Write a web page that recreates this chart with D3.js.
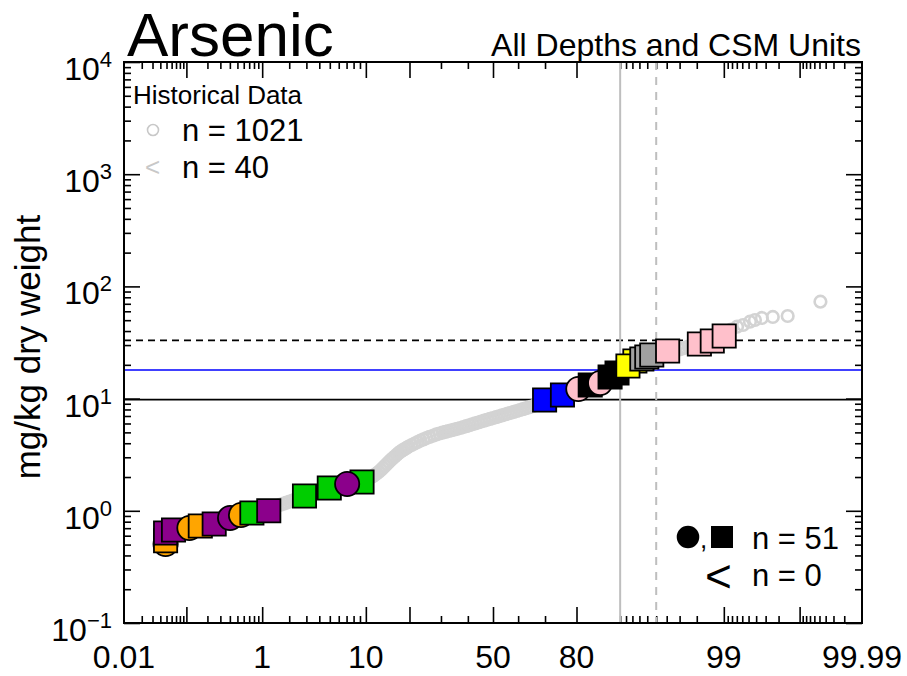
<!DOCTYPE html>
<html>
<head>
<meta charset="utf-8">
<script src="https://cdn.jsdelivr.net/npm/d3@7"></script>
<style>
  body { margin: 0; background: #ffffff; }
  text { font-family: "Liberation Sans", Arial, Helvetica, sans-serif; fill: #000; }
</style>
</head>
<body>
<svg id="chart" width="907" height="676"></svg>
<script>
// ---------------------------------------------------------------
// Arsenic probability plot: normal score (x) vs concentration (y)
// ---------------------------------------------------------------

// Historical record: normal scores of the plotting positions and mg/kg values
const histZ = [
  -3.30,-2.97,-2.81,-2.70,-2.62,-2.55,-2.49,-2.44,-2.40,-2.36,
  -2.32,-2.29,-2.26,-2.23,-2.20,-2.17,-2.14,-2.11,-2.08,-2.05,
  -2.02,-1.99,-1.96,-1.93,-1.90,-1.87,-1.83,-1.80,-1.77,-1.74,
  -1.71,-1.68,-1.65,-1.62,-1.59,-1.56,-1.53,-1.50,-1.47,-1.44,
  -1.41,-1.38,-1.35,-1.32,-1.29,-1.26,-1.23,-1.21,-1.19,-1.17,
  -1.15,-1.13,-1.11,-1.09,-1.07,-1.05,-1.03,-1.01,-0.99,-0.97,
  -0.95,-0.93,-0.91,-0.89,-0.87,-0.85,-0.82,-0.79,-0.76,-0.73,
  -0.70,-0.67,-0.64,-0.60,-0.57,-0.54,-0.51,-0.48,-0.45,-0.42,
  -0.39,-0.36,-0.33,-0.30,-0.27,-0.24,-0.21,-0.18,-0.15,-0.12,
  -0.09,-0.06,-0.03, 0.00, 0.03, 0.06, 0.09, 0.12, 0.15, 0.18,
   0.21, 0.24, 0.27, 0.30, 0.33, 0.36, 0.39, 0.42, 0.45, 0.48,
   0.51, 0.54, 0.57, 0.60, 0.63, 0.67, 0.70, 0.73, 0.76, 0.79,
   0.82, 0.85, 0.88, 0.91, 0.94, 0.97, 1.00, 1.03, 1.06, 1.09,
   1.12, 1.15, 1.18, 1.21, 1.24, 1.27, 1.30, 1.33, 1.36, 1.39,
   1.42, 1.45, 1.48, 1.51, 1.54, 1.57, 1.60, 1.63, 1.66, 1.69,
   1.72, 1.75, 1.78, 1.81, 1.84, 1.88, 1.91, 1.94, 1.97, 2.00,
   2.03, 2.06, 2.09, 2.12, 2.15, 2.18, 2.21, 2.24, 2.27, 2.30,
   2.33, 2.36, 2.40, 2.46, 2.52, 2.59, 2.64, 2.71, 2.82, 2.97, 3.30
];
const histVal = [
  0.538,0.721,0.798,0.845,0.881,0.917,0.946,0.971,0.991,1.011,
  1.032,1.048,1.065,1.081,1.098,1.115,1.133,1.159,1.183,1.210,
  1.235,1.264,1.290,1.316,1.341,1.366,1.392,1.418,1.444,1.471,
  1.498,1.526,1.554,1.584,1.613,1.643,1.671,1.698,1.723,1.751,
  1.777,1.806,1.833,1.870,1.909,1.949,1.989,2.030,2.094,2.159,
  2.227,2.310,2.407,2.508,2.613,2.723,2.831,2.937,3.048,3.162,
  3.281,3.384,3.469,3.555,3.642,3.734,3.858,3.980,4.105,4.224,
  4.330,4.446,4.558,4.681,4.797,4.887,4.968,5.050,5.134,5.218,
  5.293,5.382,5.470,5.572,5.675,5.782,5.902,6.012,6.124,6.237,
  6.354,6.473,6.595,6.704,6.829,6.957,7.086,7.218,7.353,7.475,
  7.612,7.754,7.898,8.045,8.196,8.349,8.505,8.663,8.843,9.063,
  9.289,9.500,9.737,9.98,10.21,10.46,10.72,10.99,11.27,11.54,
  11.84,12.13,12.43,12.69,12.98,13.25,13.55,13.83,14.15,14.47,
  14.89,15.30,15.74,16.17,16.64,17.09,17.55,17.99,18.44,18.90,
  19.36,19.85,20.34,20.85,21.37,21.90,22.45,23.00,23.58,24.12,
  24.67,25.18,25.76,26.29,26.89,27.45,28.02,28.55,29.08,29.62,
  30.18,30.74,31.30,32.08,32.89,33.71,34.55,35.40,36.43,37.50,
  38.60,39.64,41.30,43.74,45.30,48.48,50.19,52.31,53.40,54.50,73.07
];
const histCount = 1021;
const histNonDetectCount = 40;

// Current samples, in drawing order
const sampleZ = [
  -3.30,-3.30,-3.30,-3.22,-3.06,-2.95,-2.81,-2.65,-2.54,-2.43,-2.26,
  -1.90,-1.65,-1.32,-1.47,
   0.52, 0.70, 0.86, 0.98, 1.08, 1.18, 1.25,
   1.43, 1.36, 1.50, 1.55, 1.60,
   1.76, 2.08, 2.21, 2.33
];
const sampleVal = [
  0.506,0.540,0.634,0.674,0.703,0.732,0.763,0.863,0.917,0.956,1.00,
  1.355,1.597,1.806,1.733,
  9.72,10.77,12.18,13.22,13.78,15.58,16.91,
  21.64,19.53,22.54,23.49,24.47,
  26.57,30.67,32.62,36.14
];
const sampleUnit = [
  "B","B","A","A","B","B","A","A","B","C","A",
  "C","C","C","A",
  "D","D","E","F","E","F","F",
  "G","G","H","H","H",
  "E","E","E","E"
];
const sampleType = [
  "i","ii","ii","ii","i","ii","ii","i","i","ii","ii",
  "ii","ii","ii","i",
  "ii","ii","i","ii","i","ii","ii",
  "ii","ii","ii","ii","ii",
  "ii","ii","ii","ii"
];
const sampleCount = 51;
const sampleNonDetectCount = 0;

// Screening levels (mg/kg) and reference percentiles
const screenVals = [9.79, 18, 33];
const refPct = [90, 95];

// Axis ticks
const xLabelPct = [0.01, 1, 10, 50, 80, 99, 99.99];
const xLabelText = ["0.01", "1", "10", "50", "80", "99", "99.99"];
const xMajorPct = [0.1, 1, 10, 20, 50, 80, 99, 99.9];
const yDecades = [-1, 0, 1, 2, 3, 4];

// Inverse standard normal CDF (Acklam's rational approximation)
function qnorm(p) {
  const a = [-3.969683028665376e+01, 2.209460984245205e+02, -2.759285104469687e+02,
             1.383577518672690e+02, -3.066479806614716e+01, 2.506628277459239e+00];
  const b = [-5.447609879822406e+01, 1.615858368580409e+02, -1.556989798598866e+02,
             6.680131188771972e+01, -1.328068155288572e+01];
  const c = [-7.784894002430293e-03, -3.223964580411365e-01, -2.400758277161838e+00,
             -2.549732539343734e+00, 4.374664141464968e+00, 2.938163982698783e+00];
  const d = [7.784695709041462e-03, 3.224671290700398e-01, 2.445134137142996e+00,
             3.754408661907416e+00];
  const pl = 0.02425, ph = 1 - pl;
  let q, r;
  if (p < pl) {
    q = Math.sqrt(-2 * Math.log(p));
    return (((((c[0]*q+c[1])*q+c[2])*q+c[3])*q+c[4])*q+c[5]) /
           ((((d[0]*q+d[1])*q+d[2])*q+d[3])*q+1);
  }
  if (p > ph) {
    q = Math.sqrt(-2 * Math.log(1 - p));
    return -(((((c[0]*q+c[1])*q+c[2])*q+c[3])*q+c[4])*q+c[5]) /
            ((((d[0]*q+d[1])*q+d[2])*q+d[3])*q+1);
  }
  q = p - 0.5; r = q * q;
  return (((((a[0]*r+a[1])*r+a[2])*r+a[3])*r+a[4])*r+a[5])*q /
         (((((b[0]*r+b[1])*r+b[2])*r+b[3])*r+b[4])*r+1);
}
const pz = pct => qnorm(pct / 100);

// Minor tick positions on the probability axis
const xMinorPct = [].concat(
  d3.range(2, 10).map(k => k / 100),
  d3.range(2, 10).map(k => k / 10),
  d3.range(2, 10),
  [30, 40, 60, 70, 90],
  d3.range(91, 99),
  d3.range(1, 9).map(k => 99 + k / 10),
  d3.range(1, 9).map(k => 99.9 + k / 100)
);
const yMinor = [];
yDecades.slice(0, -1).forEach(e => d3.range(2, 10).forEach(k => yMinor.push(k * Math.pow(10, e))));

// ---------------- layout ----------------
const plot = { left: 124, top: 62, right: 862, bottom: 623 };
const svg = d3.select("#chart");

const x = d3.scaleLinear().domain([pz(0.01), pz(99.99)]).range([plot.left, plot.right]);
const y = d3.scaleLog().domain([0.1, 1e4]).range([plot.bottom, plot.top]);

const unitColor = d3.scaleOrdinal()
  .domain(["A", "B", "C", "D", "E", "F", "G", "H"])
  .range(["#8b008b", "#ffa500", "#00cd00", "#0000ff", "#ffc0cb", "#000000", "#ffff00", "#a0a0a0"]);
const typeSymbol = d3.scaleOrdinal().domain(["i", "ii"]).range([d3.symbolCircle, d3.symbolSquare]);
const typeSize = d3.scaleOrdinal().domain(["i", "ii"]).range([460, 540]);

svg.append("clipPath").attr("id", "plotClip")
  .append("rect").attr("x", plot.left).attr("y", plot.top)
  .attr("width", plot.right - plot.left).attr("height", plot.bottom - plot.top);

// ---------------- inward ticks on all four sides ----------------
function tickSet(axisGen, scale, values, len, tx, ty) {
  const g = svg.append("g").attr("transform", `translate(${tx},${ty})`)
    .call(axisGen(scale).tickValues(values).tickSize(-len).tickFormat(""));
  g.select(".domain").remove();
  g.selectAll(".tick line").attr("stroke", "#000").attr("stroke-width", 1.6);
}
const xMajorZ = xMajorPct.map(pz), xMinorZ = xMinorPct.map(pz);
const yMajor = yDecades.map(e => Math.pow(10, e));
tickSet(d3.axisBottom, x, xMajorZ, 16, 0, plot.bottom);
tickSet(d3.axisBottom, x, xMinorZ, 7, 0, plot.bottom);
tickSet(d3.axisTop, x, xMajorZ, 16, 0, plot.top);
tickSet(d3.axisTop, x, xMinorZ, 7, 0, plot.top);
tickSet(d3.axisLeft, y, yMajor, 16, plot.left, 0);
tickSet(d3.axisLeft, y, yMinor, 7, plot.left, 0);
tickSet(d3.axisRight, y, yMajor, 16, plot.right, 0);
tickSet(d3.axisRight, y, yMinor, 7, plot.right, 0);

// ---------------- reference lines ----------------
const refG = svg.append("g").attr("clip-path", "url(#plotClip)");
const screenStyle = [
  { stroke: "#000000", width: 1.6, dash: null },
  { stroke: "#0000ff", width: 1.5, dash: null },
  { stroke: "#000000", width: 1.6, dash: "7,5" }
];
refG.selectAll("line.screen").data(screenVals).join("line")
  .attr("class", "screen")
  .attr("x1", plot.left).attr("x2", plot.right)
  .attr("y1", d => y(d)).attr("y2", d => y(d))
  .attr("stroke", (d, i) => screenStyle[i].stroke)
  .attr("stroke-width", (d, i) => screenStyle[i].width)
  .attr("stroke-dasharray", (d, i) => screenStyle[i].dash);

refG.selectAll("line.pct").data(refPct).join("line")
  .attr("class", "pct")
  .attr("x1", d => x(pz(d))).attr("x2", d => x(pz(d)))
  .attr("y1", plot.top).attr("y2", plot.bottom)
  .attr("stroke", "#bebebe").attr("stroke-width", 2)
  .attr("stroke-dasharray", (d, i) => i === 1 ? "8,7" : null);

// ---------------- historical data ----------------
const histData = histZ.map((z, i) => ({ z, v: histVal[i] }));
svg.append("g").attr("clip-path", "url(#plotClip)")
  .selectAll("circle").data(histData).join("circle")
  .attr("cx", d => x(d.z)).attr("cy", d => y(d.v)).attr("r", 5.8)
  .attr("fill", "none").attr("stroke", "#d3d3d3").attr("stroke-width", 2.6);

// ---------------- current samples ----------------
const sampleData = sampleZ.map((z, i) => ({ z, v: sampleVal[i], unit: sampleUnit[i], type: sampleType[i] }));
svg.append("g")
  .selectAll("path").data(sampleData).join("path")
  .attr("transform", d => `translate(${x(d.z)},${y(d.v)})`)
  .attr("d", d => d3.symbol().type(typeSymbol(d.type)).size(typeSize(d.type))())
  .attr("fill", d => unitColor(d.unit))
  .attr("stroke", "#000").attr("stroke-width", 1.8);

// ---------------- frame ----------------
svg.append("rect")
  .attr("x", plot.left).attr("y", plot.top)
  .attr("width", plot.right - plot.left).attr("height", plot.bottom - plot.top)
  .attr("fill", "none").attr("stroke", "#000").attr("stroke-width", 2);

// ---------------- tick labels ----------------
svg.append("g").selectAll("text").data(xLabelPct).join("text")
  .attr("x", d => x(pz(d))).attr("y", 668)
  .attr("text-anchor", "middle").style("font-size", "32px")
  .text((d, i) => xLabelText[i]);

svg.append("g").selectAll("text").data(yDecades).join("text")
  .attr("x", 112).attr("y", d => y(Math.pow(10, d)) + 18)
  .attr("text-anchor", "end").style("font-size", "32px")
  .each(function (d) {
    const t = d3.select(this);
    t.append("tspan").text("10");
    t.append("tspan").attr("dy", -13).style("font-size", "22px")
      .text(d < 0 ? "\u2212" + Math.abs(d) : String(d));
  });

// axis title
svg.append("text")
  .attr("transform", "translate(40,347) rotate(-90)")
  .attr("text-anchor", "middle").style("font-size", "35px")
  .text("mg/kg dry weight");

// titles
svg.append("text").attr("x", 127).attr("y", 56)
  .style("font-size", "62px").text("Arsenic");
svg.append("text").attr("x", 861).attr("y", 56).attr("text-anchor", "end")
  .style("font-size", "32px").text("All Depths and CSM Units");

// ---------------- legend: historical data ----------------
const lg = svg.append("g");
lg.append("text").attr("x", 133).attr("y", 104).style("font-size", "26px").text("Historical Data");
lg.append("circle").attr("cx", 153).attr("cy", 130).attr("r", 5.5)
  .attr("fill", "none").attr("stroke", "#c8c8c8").attr("stroke-width", 1.6);
lg.append("text").attr("x", 182).attr("y", 141).style("font-size", "31px")
  .text(`n = ${histCount}`);
lg.append("text").attr("x", 145).attr("y", 176).style("font-size", "26px")
  .style("fill", "#c8c8c8").text("<");
lg.append("text").attr("x", 182).attr("y", 178).style("font-size", "31px")
  .text(`n = ${histNonDetectCount}`);

// ---------------- legend: current samples ----------------
const lg2 = svg.append("g");
lg2.append("path").attr("transform", "translate(688,537)")
  .attr("d", d3.symbol().type(d3.symbolCircle).size(400)()).attr("fill", "#000");
lg2.append("text").attr("x", 700).attr("y", 548).style("font-size", "26px").text(",");
lg2.append("path").attr("transform", "translate(722,537)")
  .attr("d", d3.symbol().type(d3.symbolSquare).size(484)()).attr("fill", "#000");
lg2.append("text").attr("x", 752).attr("y", 549).style("font-size", "31px")
  .text(`n = ${sampleCount}`);
lg2.append("text").attr("x", 705).attr("y", 592).style("font-size", "46px").text("<");
lg2.append("text").attr("x", 752).attr("y", 586).style("font-size", "31px")
  .text(`n = ${sampleNonDetectCount}`);
</script>
</body>
</html>
